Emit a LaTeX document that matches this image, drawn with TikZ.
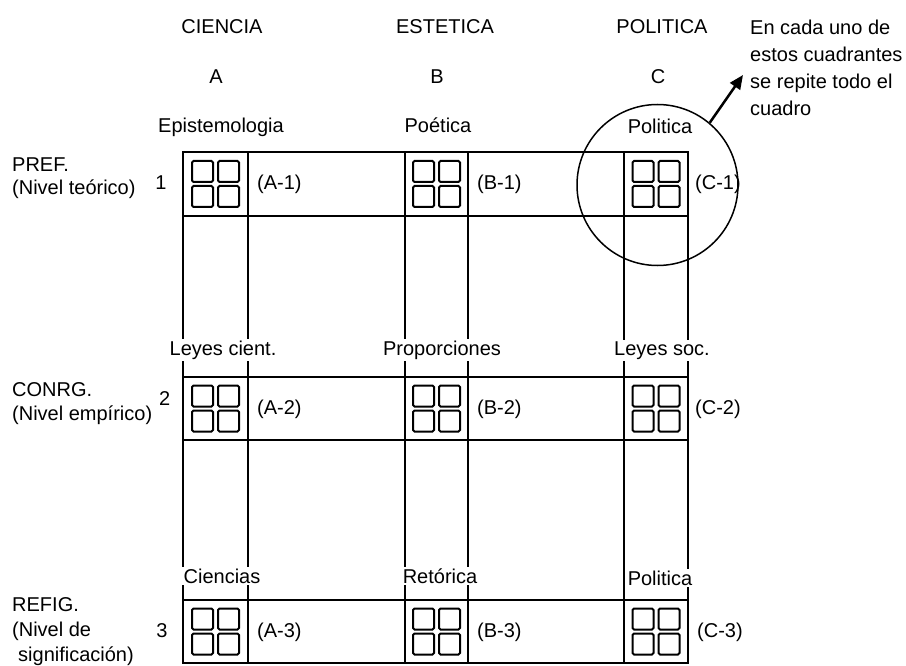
\documentclass[tikz,border=0pt]{standalone}
\usepackage{fontspec}
\setmainfont{Liberation Sans}
\usetikzlibrary{arrows.meta}
\begin{document}
\begin{tikzpicture}[x=1pt,y=-1pt,
  font=\fontsize{20}{24}\selectfont,
  gridline/.style={line width=2.2pt},
  sqbox/.style={line width=2pt,rounded corners=1.5pt},
  txt/.style={inner sep=0pt},
  lab/.style={inner sep=1.5pt,fill=white},
  circ/.style={circle,draw,line width=1.5pt,minimum size=161pt,inner sep=0pt}]
\useasboundingbox (0,0) rectangle (906,666);
% grid
\foreach \yy in {152,216,377,440,600,663}
  \draw[gridline,line cap=rect] (183,\yy) -- (688,\yy);
\foreach \xx in {183,248,405,468,624,688}
  \draw[gridline] (\xx,152) -- (\xx,663);
% small squares
\foreach \cx in {215.5,436.5,656}
  \foreach \cy in {184,408.5,631.5}
    \foreach \dx/\dy in {-1/-1,1/-1,-1/1,1/1}
      \draw[sqbox] ({\cx+\dx*13-10.5},{\cy+\dy*12.5-10.5}) rectangle ++(21,21);
% headings
\node[txt,anchor=base] (hA) at (222,34) {CIENCIA};
\node[txt,anchor=base] (hB) at (445,34) {ESTETICA};
\node[txt,anchor=base] (hC) at (662,34) {POLITICA};
\node[txt,anchor=base] (lA) at (216,84) {A};
\node[txt,anchor=base] (lB) at (437,84) {B};
\node[txt,anchor=base] (lC) at (658,84) {C};
% row 1 labels
\node[txt,anchor=base] (r1a) at (221,133) {Epistemologia};
\node[txt,anchor=base] (r1b) at (438,133) {Poética};
\node[txt,anchor=base] (r1c) at (660,134) {Politica};
% row 2 labels
\node[lab,anchor=base] (r2a) at (223,355) {Leyes cient.};
\node[lab,anchor=base] (r2b) at (442,355) {Proporciones};
\node[lab,anchor=base] (r2c) at (662,355) {Leyes soc.};
% row 3 labels
\node[lab,anchor=base] (r3a) at (222,583) {Ciencias};
\node[lab,anchor=base] (r3b) at (440,583) {Retórica};
\node[lab,anchor=base] (r3c) at (660,585) {Politica};
% cell labels
\node[txt,anchor=west] (a1) at (257,184) {(A-1)};
\node[txt,anchor=west] (b1) at (477,184) {(B-1)};
\node[txt,anchor=west] (c1) at (695,184) {(C-1)};
\node[txt,anchor=west] (a2) at (257,409) {(A-2)};
\node[txt,anchor=west] (b2) at (477,409) {(B-2)};
\node[txt,anchor=west] (c2) at (695,409) {(C-2)};
\node[txt,anchor=west] (a3) at (257,632) {(A-3)};
\node[txt,anchor=west] (b3) at (477,632) {(B-3)};
\node[txt,anchor=west] (c3) at (697,632) {(C-3)};
% left labels
\node[txt,anchor=base west] (p1) at (12,172) {PREF.};
\node[txt,anchor=base west] (p2) at (12,195) {(Nivel teórico)};
\node[txt,anchor=base] (n1) at (161,190) {1};
\node[txt,anchor=base west] (q1) at (12,396) {CONRG.};
\node[txt,anchor=base west] (q2) at (12,420) {(Nivel empírico)};
\node[txt,anchor=base west] (n2) at (159,405) {2};
\node[txt,anchor=base west] (s1) at (12,611) {REFIG.};
\node[txt,anchor=base west] (s2) at (12,636) {(Nivel de};
\node[txt,anchor=base west] (s3) at (18,661) {significación)};
\node[txt,anchor=base] (n3) at (162,637) {3};
% circle and note
\node[circ] (ring) at (657.5,185) {};
\node[txt,anchor=base west] (note1) at (750,35) {En cada uno de};
\node[txt,anchor=base west] (note2) at (750,62) {estos cuadrantes};
\node[txt,anchor=base west] (note3) at (750,89) {se repite todo el};
\node[txt,anchor=base west] (note4) at (750,116) {cuadro};
\coordinate (tip) at (743,75);
\draw[line width=2.5pt,-{Triangle[length=14pt,width=12pt]}] (ring.50) -- (tip);
\end{tikzpicture}
\end{document}
